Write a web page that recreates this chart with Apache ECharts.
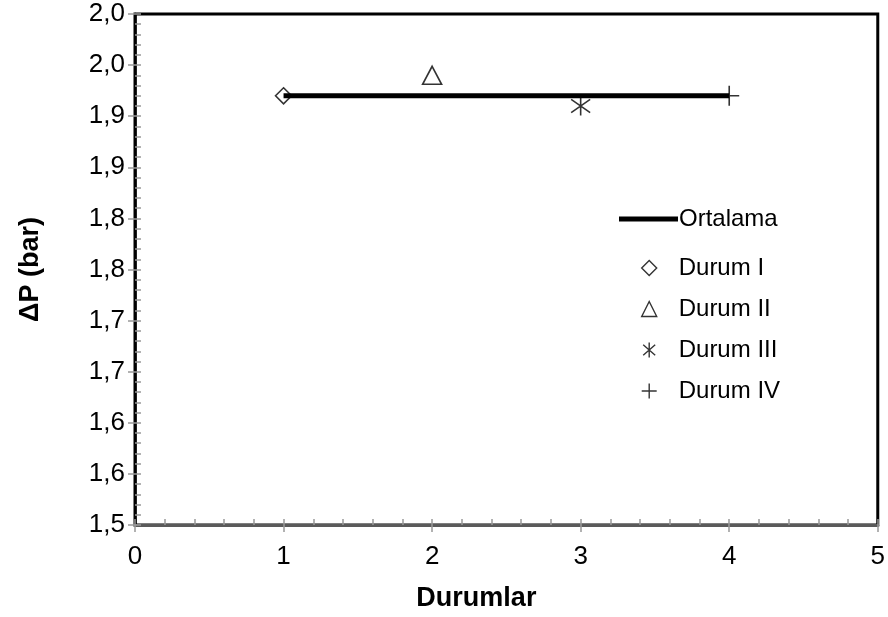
<!DOCTYPE html>
<html>
<head>
<meta charset="utf-8">
<script src="https://cdn.jsdelivr.net/npm/echarts@6/dist/echarts.min.js"></script>
<style>html,body{margin:0;padding:0;background:#fff}#c{width:888px;height:617px}</style>
</head>
<body>
<div id="c"></div>
<script>
// Data
var durumNames = ['Durum I', 'Durum II', 'Durum III', 'Durum IV'];
var durumX = [1, 2, 3, 4];
var durumY = [1.920, 1.940, 1.910, 1.920];
var meanName = 'Ortalama';
var meanX = [1, 4];
var meanY = [1.920, 1.920];
var xTicks = [0, 1, 2, 3, 4, 5];
var yMin = 1.5, yMax = 2.0, yStep = 0.05;

var FONT = 'Liberation Sans, Arial, sans-serif';
var asterisk = 'path://M2 3 L18 17 M18 3 L2 17 M10 0 L10 20';
var plus = 'path://M0 10 L20 10 M10 0 L10 20';
var symbols = ['diamond', 'triangle', asterisk, plus];
var sizes = [[16, 16], [19, 18], [19, 19], [20, 20]];

var chart = echarts.init(document.getElementById('c'));
var fmtY = function (v) { return (Math.round(v * 10 + 1e-9) / 10).toFixed(1).replace('.', ','); };

var series = [{
  name: meanName, type: 'line', symbol: 'none', z: 1,
  data: meanX.map(function (x, i) { return [x, meanY[i]]; }),
  lineStyle: { color: '#000', width: 5 }, itemStyle: { color: '#000' }
}];
durumNames.forEach(function (n, i) {
  series.push({
    name: n, type: 'scatter', z: 3,
    symbol: symbols[i], symbolSize: sizes[i],
    data: [[durumX[i], durumY[i]]],
    itemStyle: { color: 'transparent', borderColor: '#000', borderWidth: 1.6 }
  });
});

var tickText = { fontFamily: FONT, fontSize: 26, color: '#000' };

chart.setOption({
  animation: false,
  backgroundColor: '#fff',
  grid: { left: 135, right: 9, top: 14, bottom: 90, show: true, borderColor: '#000', borderWidth: 3, backgroundColor: 'transparent' },
  legend: [{
    data: [{ name: meanName, icon: 'rect' }], orient: 'vertical', left: 619, top: 207, padding: 0,
    itemWidth: 59, itemHeight: 5, itemGap: 17,
    textStyle: { fontFamily: FONT, fontSize: 24, color: '#000', padding: [0, 0, 0, -4] }
  }, {
    data: durumNames, orient: 'vertical', left: 641, top: 256, padding: 0,
    itemWidth: 15, itemHeight: 15, itemGap: 17,
    textStyle: { fontFamily: FONT, fontSize: 24, color: '#000', padding: [0, 0, 0, 17] },
    itemStyle: { borderWidth: 1.4 }
  }],
  xAxis: [{
    type: 'value', min: 0, max: 5, interval: 1, position: 'bottom',
    name: 'Durumlar', nameLocation: 'middle', nameGap: 60,
    nameTextStyle: { fontFamily: FONT, fontSize: 27, fontWeight: 'bold', color: '#000', padding: [0, 60, 0, 0] },
    axisLine: { show: true, lineStyle: { color: '#5a5a5a', width: 3 } },
    axisTick: { show: true, inside: true, length: 6, lineStyle: { color: '#999', width: 1.5 } },
    minorTick: { show: true, splitNumber: 5, length: 6, lineStyle: { color: '#999', width: 1.5 } },
    splitLine: { show: false },
    axisLabel: Object.assign({ margin: 19, formatter: function (v) { return String(v); } }, tickText)
  }, {
    type: 'value', min: 0, max: 5, interval: 1, position: 'bottom', offset: 0,
    axisLine: { show: false }, axisLabel: { show: false }, splitLine: { show: false },
    axisTick: { show: true, inside: false, length: 7, lineStyle: { color: '#999', width: 1.5 } }
  }],
  yAxis: [{
    type: 'value', min: yMin, max: yMax, interval: yStep, position: 'left',
    name: 'ΔP (bar)', nameLocation: 'middle', nameGap: 91, nameRotate: 90,
    nameTextStyle: { fontFamily: FONT, fontSize: 27, fontWeight: 'bold', color: '#000' },
    axisLine: { show: true, lineStyle: { color: '#000', width: 2.5 } },
    axisTick: { show: true, inside: true, length: 6, lineStyle: { color: '#999', width: 1.5 } },
    minorTick: { show: true, splitNumber: 5, length: 6, lineStyle: { color: '#999', width: 1.5 } },
    splitLine: { show: false },
    axisLabel: Object.assign({ margin: 10, formatter: fmtY }, tickText)
  }, {
    type: 'value', min: yMin, max: yMax, interval: yStep, position: 'left', offset: 0,
    axisLine: { show: false }, axisLabel: { show: false }, splitLine: { show: false },
    axisTick: { show: true, inside: false, length: 7, lineStyle: { color: '#999', width: 1.5 } }
  }],
  series: series
});
</script>
</body>
</html>
